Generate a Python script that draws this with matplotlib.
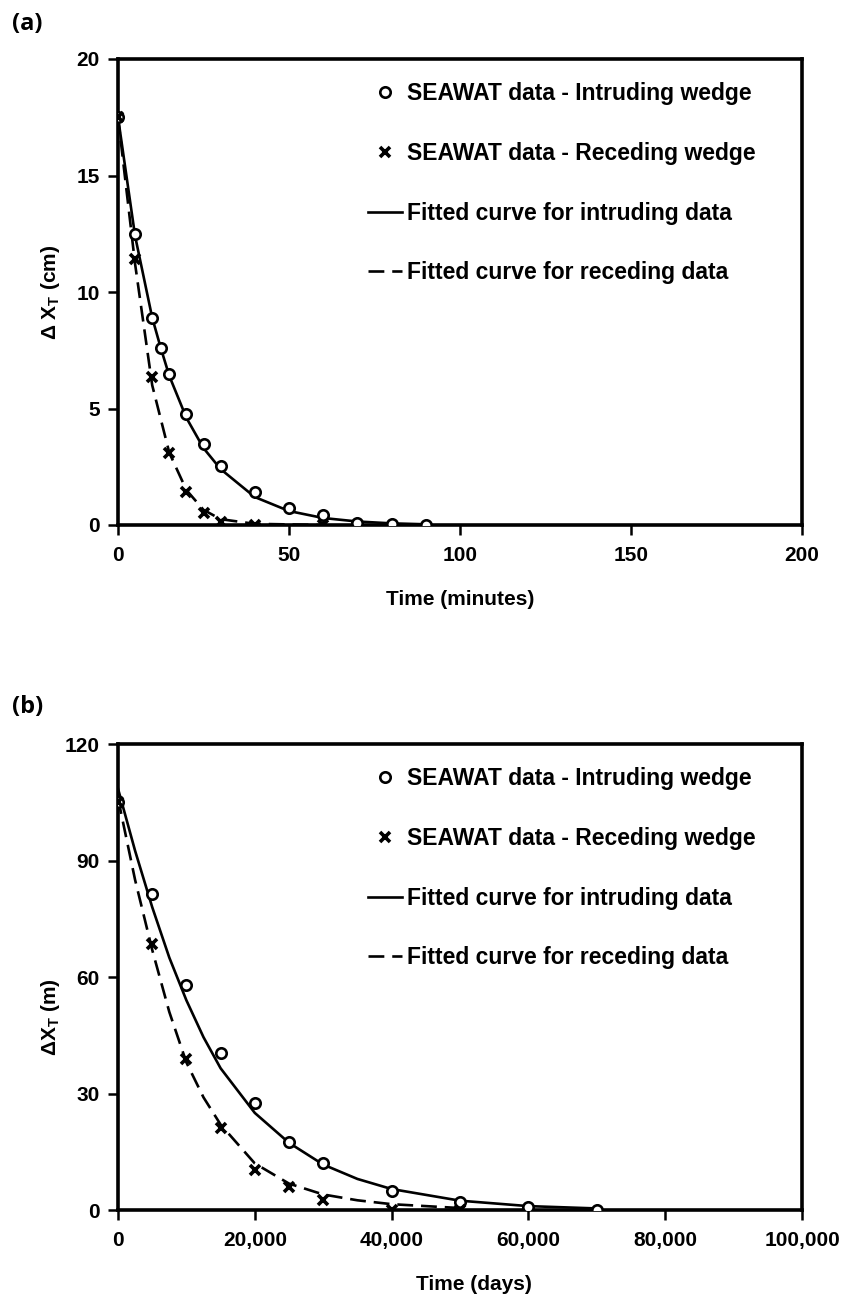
import matplotlib
matplotlib.use("Agg")
import matplotlib.pyplot as plt
from matplotlib.ticker import FuncFormatter

plt.rcParams['font.family'] = ['Liberation Sans', 'DejaVu Sans']
plt.rcParams['font.weight'] = 'bold'
plt.rcParams['mathtext.fontset'] = 'custom'
plt.rcParams['mathtext.rm'] = 'Liberation Sans'
plt.rcParams['mathtext.bf'] = 'Liberation Sans:bold'

# (a) lab scale, minutes vs cm
t_int_a = [0, 5, 10, 12.5, 15, 20, 25, 30, 40, 50, 60, 70, 80, 90]
dx_int_a = [17.5, 12.5, 8.9, 7.6, 6.5, 4.76, 3.47, 2.54, 1.43, 0.71, 0.43, 0.1, 0.03, 0.0]
t_rec_a = [0, 5, 10, 15, 20, 25, 30, 40, 60]
dx_rec_a = [17.5, 11.4, 6.35, 3.1, 1.43, 0.53, 0.14, 0.02, 0.0]
fit_int_a = [17.5, 12.4, 8.9, 7.6, 6.4, 4.6, 3.3, 2.4, 1.2, 0.6, 0.3, 0.15, 0.07, 0.03]
fit_rec_a = [17.5, 11.2, 6.0, 3.1, 1.5, 0.65, 0.25, 0.05, 0.0]

# (b) field scale, days vs m
t_int_b = [0, 5000, 10000, 15000, 20000, 25000, 30000, 40000, 50000, 60000, 70000]
dx_int_b = [105, 81.3, 58, 40.5, 27.6, 17.6, 12, 5, 2, 0.7, 0.1]
t_rec_b = [0, 5000, 10000, 15000, 20000, 25000, 30000, 40000, 50000]
dx_rec_b = [105, 68.6, 39, 21, 10.3, 5.8, 2.6, 0.1, 0.1]
t_fit_int_b = [0, 2500, 5000, 7500, 10000, 12500, 15000, 20000, 25000, 30000, 35000, 40000, 50000, 60000, 70000]
fit_int_b = [108.5, 92.5, 78, 65, 54, 44.5, 36.5, 25, 17.3, 11.7, 8.0, 5.4, 2.4, 1.0, 0.4]
t_fit_rec_b = [0, 2500, 5000, 7500, 10000, 12500, 15000, 20000, 25000, 30000, 35000, 40000, 50000]
fit_rec_b = [106, 85, 67, 51, 38, 29, 22, 12, 6.8, 4.0, 2.5, 1.5, 0.5]

labels = ['SEAWAT data - Intruding wedge', 'SEAWAT data - Receding wedge',
          'Fitted curve for intruding data', 'Fitted curve for receding data']

fig = plt.figure(figsize=(8.48, 12.96), dpi=100)
W, H = 848, 1296
ax_a = fig.add_axes([118 / W, 1 - 525 / H, 684 / W, 466 / H])
ax_b = fig.add_axes([118 / W, 1 - 1210 / H, 684 / W, 466 / H])


def draw(ax, t_i, d_i, t_r, d_r, tf_i, f_i, tf_r, f_r):
    ax.plot(t_i, d_i, 'o', ms=7.5, mfc='white', mec='black', mew=1.9, ls='none', label=labels[0], zorder=4)
    ax.plot(t_r, d_r, 'x', ms=6.5, mec='black', mew=2.6, ls='none', label=labels[1], zorder=4)
    ax.plot(tf_i, f_i, '-', color='black', lw=1.9, label=labels[2], zorder=3)
    ax.plot(tf_r, f_r, '--', color='black', lw=1.9, dashes=(6, 3), label=labels[3], zorder=3)
    for s in ax.spines.values():
        s.set_linewidth(2.6)
    ax.tick_params(axis='both', direction='out', length=7, width=1.8, labelsize=15)
    ax.tick_params(axis='x', pad=8)
    ax.tick_params(axis='y', pad=6)
    ax.legend(loc='upper left', bbox_to_anchor=(0.3655, 0.95), frameon=False,
              fontsize=16.5, borderpad=0, borderaxespad=0, handlelength=1.5,
              handletextpad=0.2, labelspacing=1.6, markerscale=1.0)


draw(ax_a, t_int_a, dx_int_a, t_rec_a, dx_rec_a, t_int_a, fit_int_a, t_rec_a, fit_rec_a)
ax_a.set_xlim(0, 200)
ax_a.set_ylim(0, 20)
ax_a.set_xticks([0, 50, 100, 150, 200])
ax_a.set_yticks([0, 5, 10, 15, 20])
ax_a.set_xlabel('Time (minutes)', fontsize=15, fontweight='bold')
ax_a.set_ylabel(r'$\mathrm{\Delta}$ X$_{\mathrm{T}}$ (cm)', fontsize=15, fontweight='bold')
ax_a.xaxis.set_label_coords(0.5, -0.14)
ax_a.yaxis.set_label_coords(-0.082, 0.5)

draw(ax_b, t_int_b, dx_int_b, t_rec_b, dx_rec_b, t_fit_int_b, fit_int_b, t_fit_rec_b, fit_rec_b)
ax_b.set_xlim(0, 100000)
ax_b.set_ylim(0, 120)
ax_b.set_xticks([0, 20000, 40000, 60000, 80000, 100000])
ax_b.set_yticks([0, 30, 60, 90, 120])
ax_b.xaxis.set_major_formatter(FuncFormatter(lambda v, p: f'{int(v):,}'))
ax_b.set_xlabel('Time (days)', fontsize=15, fontweight='bold')
ax_b.set_ylabel(r'$\mathrm{\Delta}$X$_{\mathrm{T}}$ (m)', fontsize=15, fontweight='bold')
ax_b.xaxis.set_label_coords(0.52, -0.14)
ax_b.yaxis.set_label_coords(-0.082, 0.414)

fig.text(12 / W, 1 - 24 / H, '(a)', fontsize=17, fontweight='bold', family='Open Sans', va='center', ha='left')
fig.text(12 / W, 1 - 707 / H, '(b)', fontsize=17, fontweight='bold', family='Open Sans', va='center', ha='left')

fig.savefig('out.png', dpi=100)
